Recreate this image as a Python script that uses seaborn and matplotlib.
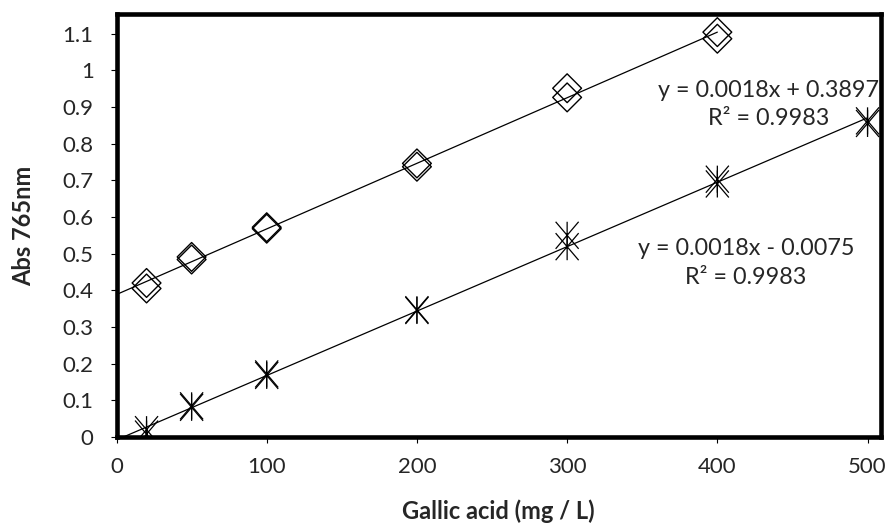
import numpy as np
import pandas as pd
import matplotlib
matplotlib.use("Agg")
import matplotlib.pyplot as plt
from matplotlib.path import Path
import seaborn as sns

# replicate readings
conc_a = [20, 20, 50, 50, 100, 100, 200, 200, 300, 300, 400, 400]
abs_a = [0.420, 0.405, 0.491, 0.484, 0.572, 0.568, 0.746, 0.737, 0.951, 0.926, 1.104, 1.086]

conc_b = [20, 20, 50, 50, 100, 100, 200, 200, 300, 300, 400, 400, 500, 500]
abs_b = [0.020, 0.008, 0.085, 0.081, 0.172, 0.168, 0.347, 0.345, 0.550, 0.519, 0.703, 0.690, 0.862, 0.855]

eq_a = "y = 0.0018x + 0.3897\nR² = 0.9983"
eq_b = "y = 0.0018x - 0.0075\nR² = 0.9983"

x_ticks = [0, 100, 200, 300, 400, 500]
y_ticks = [0, 0.1, 0.2, 0.3, 0.4, 0.5, 0.6, 0.7, 0.8, 0.9, 1.0, 1.1]

df_a = pd.DataFrame({"conc": conc_a, "abs": abs_a})
df_b = pd.DataFrame({"conc": conc_b, "abs": abs_b})

sns.set_theme(style="white")
plt.rcParams["font.family"] = ["Lato", "DejaVu Sans"]

fig = plt.figure(figsize=(8.88, 5.24), dpi=100)
ax = fig.add_axes([0.1312, 0.166, 0.861, 0.807])

# Excel style asterisk: vertical bar plus an X
star = Path([(0, -1), (0, 1), (-0.85, -1), (0.85, 1), (-0.85, 1), (0.85, -1)],
            [Path.MOVETO, Path.LINETO] * 3)

sns.scatterplot(data=df_a, x="conc", y="abs", marker="D", s=215,
                facecolor="none", edgecolor="black", linewidth=1.0, ax=ax, zorder=3)
sns.scatterplot(data=df_b, x="conc", y="abs", marker=star, s=380,
                facecolor="none", edgecolor="black", linewidth=0.9, ax=ax, zorder=3)

# linear trendlines, forecast back to x = 0
for df in (df_a, df_b):
    k, b = np.polyfit(df["conc"], df["abs"], 1)
    xf = np.array([0, df["conc"].max()])
    sns.lineplot(x=xf, y=k * xf + b, color="black", linewidth=0.9, ax=ax)

ax.text(434, 0.907, eq_a, ha="center", va="center", multialignment="center",
        fontsize=16.8, linespacing=1.45)
ax.text(419, 0.475, eq_b, ha="center", va="center", multialignment="center",
        fontsize=16.8, linespacing=1.45)

ax.set_xlim(0, 509)
ax.set_ylim(0, 1.153)
ax.set_xticks(x_ticks)
ax.set_yticks(y_ticks)
ax.set_yticklabels([f"{v:g}" for v in y_ticks])
ax.tick_params(axis="both", direction="out", length=4.5, width=0.8, color="black",
               labelsize=16, bottom=True, left=True)
ax.tick_params(axis="x", pad=10)
ax.tick_params(axis="y", pad=12)

for sp in ax.spines.values():
    sp.set_visible(True)
    sp.set_color("black")
    sp.set_linewidth(3.3)

ax.set_xlabel("Gallic acid (mg / L)", fontsize=17, fontweight="bold", labelpad=16)
ax.set_ylabel("Abs 765nm", fontsize=17, fontweight="bold", labelpad=20)

fig.savefig("out.png", dpi=100)
